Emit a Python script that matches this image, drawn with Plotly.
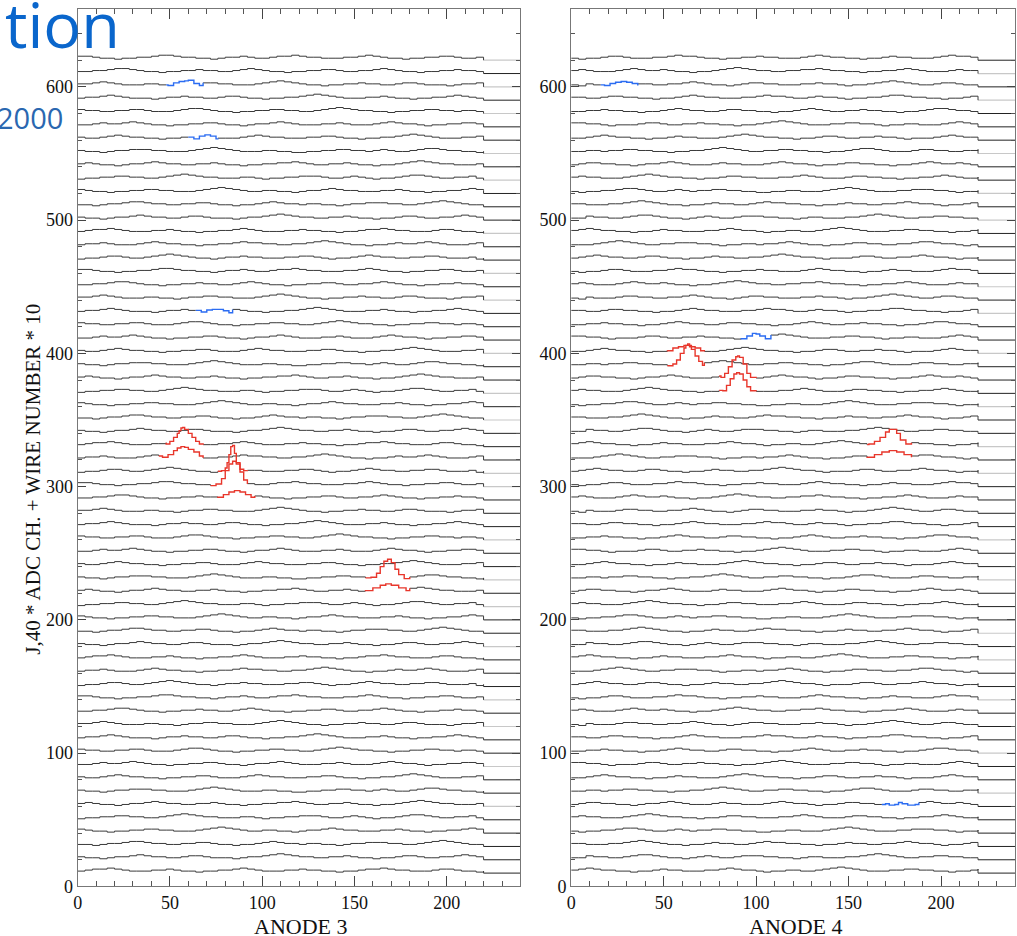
import plotly.graph_objects as go

W, H = 1017, 936

# ---------------- data ----------------
wire_numbers = list(range(1, 63))          # wires 1..62, offset = wire*10
x_end = 220                                 # last ADC sample of each trace
x_max = 240

# hand-read noise shapes (ADC units * 0.75 above pedestal), 56 samples over 0..220
noise_patterns = [
    "23343222 34543322 12233454 43322334 56543221 22343345 43222343",
    "32212334 44332223 45654322 23322112 23344332 34322345 54332212",
    "44322122 33455433 22123343 22344543 32223345 43221223 34432233",
    "12233443 32234565 43322233 21223344 43223432 12234554 32233422",
    "33454322 23322123 34433222 34565432 21223343 32234432 22123344",
    "22123345 54332233 44322122 34543323 32212334 44332234 56543222",
    "43322334 43222345 54322122 33443322 34565433 22122334 43323322",
    "23445432 22334322 12233454 32223343 32212234 45433222 34432212",
    "32234543 32212233 44322234 54332223 34432212 23345654 32223343",
    "12234432 23456543 22123343 32223344 32122345 43322334 43222312",
    "34322123 34543322 33432212 23344543 22334322 12234565 43322233",
    "22334554 32212233 43322345 43221223 34432233 45432212 23343322",
    "43221223 34433222 34565432 23322123 34543322 23343221 22334543",
    "23345432 22123343 32234432 21223345 65432223 34322122 33454322",
    "32212334 54332234 43222123 34565433 22334322 12234432 23345432",
    "22343345 43221223 34432212 33454322 23343222 34543321 22334432",
]
noise_unit = 0.75

# tail colour per wire (d = dark, l = light), wires 1..62
tail_left = "dddddlddlddldldddlddldlddldddlldddldlddldddldlddldddldlddldldl"
tail_right = "ddddddlddldddlddldldddlddlddddldlddldddlddldlddddldlddldddldld"

# signal pulses: (panel, wire, colour, x samples, heights above pedestal)
pulse_panel = [0, 0, 0, 0, 0, 0, 0, 0, 0, 0,
               1, 1, 1, 1, 1, 1, 1, 1, 1]
pulse_wire = [33, 32, 31, 30, 29, 23, 22, 60, 56, 43,
              40, 39, 38, 37, 33, 32, 60, 41, 6]
pulse_color = ["red", "red", "red", "red", "red", "red", "red", "blue", "blue", "blue",
               "red", "red", "red", "red", "red", "red", "blue", "blue", "blue"]
pulse_x = [
    [48, 50, 52, 54, 55, 56, 57, 58, 60, 62, 64, 66],
    [46, 49, 52, 54, 56, 58, 60, 63, 66, 68],
    [78, 80, 81, 82, 83, 84, 85, 86, 88, 90],
    [75, 78, 80, 82, 84, 86, 88, 90, 92],
    [76, 79, 82, 85, 88, 91, 94],
    [159, 162, 164, 166, 168, 170, 172, 174, 177],
    [156, 160, 164, 167, 170, 174, 178],
    [49, 52, 55, 58, 60, 63, 66],
    [63, 66, 69, 72, 75],
    [67, 70, 73, 76, 79, 82],
    [52, 55, 58, 61, 64, 67, 70],
    [55, 57, 59, 61, 62, 63, 64, 65, 67, 69, 71],
    [81, 83, 85, 87, 89, 90, 91, 93, 95, 97],
    [82, 84, 86, 88, 89.5, 91, 93, 95, 97],
    [161, 164, 167, 170, 172, 174, 176, 178, 181],
    [160, 164, 168, 172, 176, 180, 184],
    [18, 21, 24, 27, 30, 33, 36],
    [92, 95, 98, 100, 102, 105],
    [170, 172, 175, 177, 179, 182, 186],
]
pulse_h = [
    [2, 4, 7, 10, 12, 14, 14.5, 13, 10, 7, 4, 2],
    [2, 4, 7, 9, 10, 9.5, 8, 6, 3, 2],
    [2, 4, 8, 14, 20, 21, 15, 8, 3, 2],
    [2, 6, 12, 17, 19, 17, 11, 5, 2],
    [2, 4, 6, 7, 6, 4, 2],
    [2, 5, 10, 14, 15.5, 13, 8, 4, 1],
    [2, 4, 6, 7, 6, 4, 2],
    [1, 3, 4, 4.5, 5, 2.5, 1],
    [1, 3, 4, 3, 1],
    [1, 2.5, 3, 3, 2, 0.5],
    [2, 4, 5, 6, 5, 4, 2],
    [2, 5, 10, 14, 16, 17, 16, 13, 8, 4, 1],
    [2, 5, 10, 15, 17.5, 18, 17, 12, 5, 2],
    [2, 6, 11, 14.5, 15.5, 14.5, 10, 5, 2],
    [2, 4, 7, 11, 13, 13, 10, 5, 2],
    [2, 4, 6, 7, 6, 4, 2],
    [1, 2.5, 3.5, 4, 3.5, 2.5, 1],
    [1, 3, 5, 4.5, 3, 1],
    [2, 1, 1.5, 3, 2, 1, 1.5],
]

x_ticks = [0, 50, 100, 150, 200]
y_ticks = [0, 100, 200, 300, 400, 500, 600]
panel_titles = ["ANODE 3", "ANODE 4"]
y_title = "J,40 * ADC CH. + WIRE NUMBER * 10"

# ---------------- styling ----------------
TRACE_COL = "#3a3a3a"
DARK_TAIL = "#222222"
LIGHT_TAIL = "#c8c8c8"
RED = "#e8362b"
BLUE = "#2b6cf2"
SERIF = "Liberation Serif, Times New Roman, serif"

fig = go.Figure()

for panel in (0, 1):
    xa = "x" if panel == 0 else "x2"
    ya = "y" if panel == 0 else "y2"
    tails = tail_left if panel == 0 else tail_right
    pulses = [i for i in range(len(pulse_wire)) if pulse_panel[i] == panel]

    bx, by = [], []
    tdx, tdy, tlx, tly = [], [], [], []
    cols = {"red": ([], []), "blue": ([], [])}
    for w in wire_numbers:
        base = 10 * w
        pat = noise_patterns[(w * 7 + panel * 5) % len(noise_patterns)].replace(" ", "")
        if panel == 1:
            pat = pat[::-1]
        n = len(pat)
        xs = [x_end * i / (n - 1) for i in range(n)]
        ys = [base + int(c) * noise_unit for c in pat]
        segs = [i for i in pulses if pulse_wire[i] == w]
        if segs:
            x0 = min(min(pulse_x[i]) for i in segs)
            x1 = max(max(pulse_x[i]) for i in segs)
            before = [k for k in range(n) if xs[k] <= x0]
            after = [k for k in range(n) if xs[k] >= x1]
            kb, ka = before[-1], after[0]
            bx += xs[:kb + 1] + [None] + xs[ka:]
            by += ys[:kb + 1] + [None] + ys[ka:]
            for i in segs:
                cx, cy = cols[pulse_color[i]]
                px = [xs[kb]] + pulse_x[i] + [xs[ka]]
                py = [ys[kb]] + [base + h for h in pulse_h[i]] + [ys[ka]]
                cx += px + [None]
                cy += py + [None]
        else:
            bx += xs
            by += ys
        bx += [x_end, None]
        by += [base, None]
        if tails[(w - 1) % len(tails)] == "d":
            tdx += [x_end, x_max, None]
            tdy += [base, base, None]
        else:
            tlx += [x_end, x_max, None]
            tly += [base, base, None]

    fig.add_trace(go.Scatter(x=tlx, y=tly, mode="lines", line=dict(color=LIGHT_TAIL, width=1.2),
                             xaxis=xa, yaxis=ya, hoverinfo="skip", showlegend=False))
    fig.add_trace(go.Scatter(x=tdx, y=tdy, mode="lines", line=dict(color=DARK_TAIL, width=1),
                             xaxis=xa, yaxis=ya, hoverinfo="skip", showlegend=False))
    fig.add_trace(go.Scatter(x=bx, y=by, mode="lines", line=dict(color=TRACE_COL, width=1, shape="hv"),
                             xaxis=xa, yaxis=ya, hoverinfo="skip", showlegend=False))
    for cname, ccol in (("red", RED), ("blue", BLUE)):
        cx, cy = cols[cname]
        if cx:
            fig.add_trace(go.Scatter(x=cx, y=cy, mode="lines",
                                     line=dict(color=ccol, width=1.4, shape="hv"),
                                     xaxis=xa, yaxis=ya, hoverinfo="skip", showlegend=False))


def px_x(p):
    return p / W


def px_y(p):
    return 1 - p / H


common_x = dict(range=[0, x_max], tickvals=x_ticks, ticktext=[str(v) for v in x_ticks],
                ticks="inside", ticklen=10, tickcolor="#444", tickwidth=1,
                minor=dict(dtick=10, tick0=0, ticks="inside", ticklen=5, tickcolor="#555"),
                showline=True, linecolor="#777", linewidth=1, mirror="ticks",
                showgrid=False, zeroline=False,
                tickfont=dict(family=SERIF, size=18, color="#111"))
common_y = dict(range=[0, 658.5], tickvals=y_ticks, ticktext=[str(v) for v in y_ticks],
                ticks="inside", ticklen=8, tickcolor="#444", tickwidth=1,
                minor=dict(dtick=20, tick0=0, ticks="inside", ticklen=4, tickcolor="#555"),
                showline=True, linecolor="#777", linewidth=1, mirror="ticks",
                showgrid=False, zeroline=False,
                tickfont=dict(family=SERIF, size=18, color="#111"))

fig.update_layout(
    width=W, height=H, margin=dict(l=0, r=0, t=0, b=0),
    paper_bgcolor="white", plot_bgcolor="white",
    xaxis=dict(domain=[px_x(73), px_x(518)], anchor="y", **common_x),
    yaxis=dict(domain=[px_y(896), px_y(9)], anchor="x", **common_y),
    xaxis2=dict(domain=[px_x(569), px_x(1015)], anchor="y2", **common_x),
    yaxis2=dict(domain=[px_y(896), px_y(9)], anchor="x2", **common_y),
    showlegend=False,
)

annotations = [
    dict(text="tion", x=px_x(118), y=px_y(24), xanchor="right", yanchor="middle",
         font=dict(family="Open Sans, sans-serif", size=63, color="#0a66cc")),
    dict(text="2000", x=px_x(-10), y=px_y(119), xanchor="left", yanchor="middle",
         font=dict(family="Open Sans, sans-serif", size=29, color="#2a67b0")),
    dict(text=y_title, x=px_x(28), y=px_y(484), xanchor="center", yanchor="middle",
         textangle=-90, font=dict(family=SERIF, size=21, color="#111")),
    dict(text=panel_titles[0], x=px_x(297), y=px_y(922), xanchor="center", yanchor="top",
         font=dict(family=SERIF, size=22, color="#111")),
    dict(text=panel_titles[1], x=px_x(795), y=px_y(922), xanchor="center", yanchor="top",
         font=dict(family=SERIF, size=22, color="#111")),
]
for a in annotations:
    a.update(xref="paper", yref="paper", showarrow=False)
fig.update_layout(annotations=annotations)

fig.write_html("out.html")
